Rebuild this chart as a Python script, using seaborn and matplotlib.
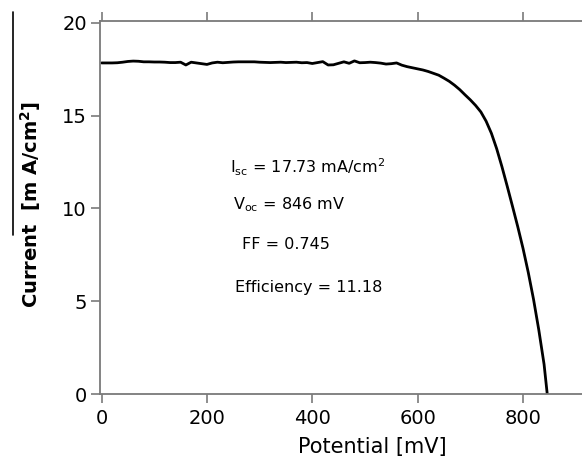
import numpy as np
import pandas as pd
import seaborn as sns
import matplotlib.pyplot as plt
from matplotlib.lines import Line2D

# J-V curve
potential = [0, 10, 20, 30, 40, 50, 60, 70, 80, 90,
             100, 110, 120, 130, 140, 150, 160, 170, 180, 190,
             200, 210, 220, 230, 240, 250, 260, 270, 280, 290,
             300, 310, 320, 330, 340, 350, 360, 370, 380, 390,
             400, 410, 420, 430, 440, 450, 460, 470, 480, 490,
             500, 510, 520, 530, 540, 550, 560, 570, 580, 590,
             600, 610, 620, 630, 640, 650, 660, 670, 680, 690,
             700, 710, 720, 730, 740, 750, 760, 770, 780, 790,
             800, 810, 820, 830, 840, 846]
current = [17.84, 17.84, 17.84, 17.85, 17.88, 17.92, 17.94, 17.93, 17.90, 17.90,
           17.89, 17.89, 17.88, 17.86, 17.86, 17.88, 17.73, 17.88, 17.84, 17.80,
           17.76, 17.84, 17.88, 17.85, 17.87, 17.89, 17.90, 17.90, 17.90, 17.90,
           17.88, 17.87, 17.86, 17.87, 17.88, 17.86, 17.87, 17.88, 17.85, 17.86,
           17.81, 17.86, 17.91, 17.73, 17.74, 17.82, 17.90, 17.82, 17.95, 17.85,
           17.86, 17.88, 17.86, 17.83, 17.78, 17.80, 17.84, 17.72, 17.64, 17.58,
           17.52, 17.46, 17.38, 17.28, 17.18, 17.02, 16.85, 16.64, 16.40, 16.12,
           15.85, 15.55, 15.20, 14.70, 14.05, 13.22, 12.25, 11.20, 10.12, 9.02,
           7.85, 6.55, 5.10, 3.45, 1.60, 0.00]

x_ticks = [0, 200, 400, 600, 800]
y_ticks = [0, 5, 10, 15, 20]

notes = [
    (244, 12.2, r"I$_{\rm sc}$ = 17.73 mA/cm$^{2}$"),
    (250, 10.2, r"V$_{\rm oc}$ = 846 mV"),
    (267, 8.04, "FF = 0.745"),
    (254, 5.72, "Efficiency = 11.18"),
]

sns.set_style("ticks")
plt.rcParams['font.family'] = ['DejaVu Sans']
plt.rcParams['mathtext.default'] = 'regular'
plt.rcParams['text.color'] = 'black'
plt.rcParams['axes.labelcolor'] = 'black'
plt.rcParams['xtick.labelcolor'] = 'black'
plt.rcParams['ytick.labelcolor'] = 'black'

df = pd.DataFrame({"potential": potential, "current": current})

fig = plt.figure(figsize=(5.82, 4.57), dpi=100)
ax = fig.add_axes([100 / 582, 63 / 457, 482 / 582, 373 / 457])

sns.lineplot(data=df, x="potential", y="current", color="black", lw=2, ax=ax)

ax.set_xlim(-3, 912)
ax.set_ylim(0, 20.1)
ax.set_xticks(x_ticks)
ax.set_yticks(y_ticks)

spine_col = "#7a7a7a"
for side in ["left", "bottom", "top"]:
    ax.spines[side].set_color(spine_col)
    ax.spines[side].set_linewidth(1.3)
ax.spines["right"].set_visible(False)

ax.tick_params(axis="x", which="both", top=True, bottom=True, direction="out",
               length=6.5, width=1.2, color=spine_col, labelsize=14, pad=4,
               labelcolor="black")
ax.tick_params(axis="y", direction="out", length=6.5, width=1.2,
               color=spine_col, labelsize=14, pad=3, labelcolor="black")

ax.set_xlabel("")
fig.text(372 / 582, 4 / 457, "Potential [mV]", fontsize=15,
         ha="center", va="baseline", color="black")
ax.set_ylabel(r"Current  [m A/cm$^{2}$]", fontsize=14, fontweight="bold",
              color="black")
ax.yaxis.set_label_coords(-0.118, 0.509)

for xv, yv, txt in notes:
    ax.text(xv, yv, txt, fontsize=11.5, ha="left", va="center", color="black")

# stray rule at the left edge of the original scan
fig.add_artist(Line2D([13 / 582, 13 / 582], [1 - 12 / 457, 1 - 235 / 457],
                      color="black", lw=1.2))

fig.savefig("out.png", dpi=100)
